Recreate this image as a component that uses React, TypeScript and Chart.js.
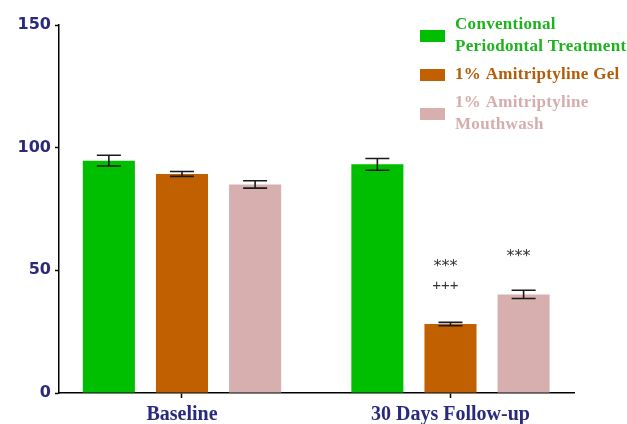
import React, { useEffect, useRef } from "react";
import { Chart, registerables } from "chart.js";

Chart.register(...registerables);

// ---- data ----
const categories = ["Baseline", "30 Days Follow-up"];
const conventional = [94.7, 93.2];
const gel = [89.3, 28.1];
const mouthwash = [85.0, 40.2];
const conventionalErr = [2.2, 2.4];
const gelErr = [1.0, 0.7];
const mouthwashErr = [1.5, 1.7];
// significance marks, listed bottom to top
const conventionalMarks: string[][] = [[], []];
const gelMarks: string[][] = [[], ["+++", "***"]];
const mouthwashMarks: string[][] = [[], ["***"]];
const seriesLabels = [
  ["Conventional", "Periodontal Treatment"],
  ["1% Amitriptyline Gel"],
  ["1% Amitriptyline", "Mouthwash"],
];
const yTicks = [0, 50, 100, 150];

// ---- styles ----
const barColors = ["rgb(0,190,0)", "rgb(192,96,0)", "rgb(216,175,175)"];
const legendTextColors = ["rgb(30,178,30)", "rgb(180,92,10)", "rgb(214,172,172)"];
const navy = "#2a2a7c";

const errorBarPlugin = {
  id: "errorBars",
  afterDatasetsDraw(chart: any) {
    const ctx = chart.ctx;
    const yScale = chart.scales.y;
    chart.data.datasets.forEach((ds: any, di: number) => {
      const meta = chart.getDatasetMeta(di);
      meta.data.forEach((el: any, i: number) => {
        const v = ds.data[i].y;
        const e = ds.errors[i];
        const yt = yScale.getPixelForValue(v + e);
        const yb = yScale.getPixelForValue(v - e);
        const x = el.x;
        const half = 12;
        ctx.save();
        ctx.strokeStyle = "#1a1a1a";
        ctx.lineWidth = 1.6;
        ctx.beginPath();
        ctx.moveTo(x, yt);
        ctx.lineTo(x, yb);
        ctx.moveTo(x - half, yt);
        ctx.lineTo(x + half, yt);
        ctx.moveTo(x - half, yb);
        ctx.lineTo(x + half, yb);
        ctx.stroke();
        // significance marks
        const marks: string[] = ds.marks[i] || [];
        ctx.fillStyle = "#333";
        ctx.textAlign = "center";
        ctx.textBaseline = "middle";
        marks.forEach((m, k) => {
          const star = m.indexOf("*") >= 0;
          ctx.font = star ? '16px "DejaVu Sans"' : '15px "Liberation Sans"';
          ctx.fillText(m, x - 5, yt - 36 - k * 23 + (star ? 3 : 0));
        });
        ctx.restore();
      });
    });
  },
};

const legendPlugin = {
  id: "customLegend",
  afterDraw(chart: any) {
    const ctx = chart.ctx;
    const x0 = 420;
    const textX = 455;
    const lh = 22;
    let top = 14;
    ctx.save();
    ctx.font = 'bold 17px "Liberation Serif"';
    try {
      (ctx as any).letterSpacing = "0.3px";
    } catch (e) {}
    ctx.textBaseline = "middle";
    ctx.textAlign = "left";
    chart.data.datasets.forEach((ds: any) => {
      const lines: string[] = ds.legendLines;
      const h = lines.length * lh;
      const cy = top + h / 2;
      ctx.fillStyle = ds.backgroundColor;
      ctx.fillRect(x0, cy - 6, 25, 12);
      ctx.fillStyle = ds.legendColor;
      lines.forEach((t, k) => {
        ctx.fillText(t, textX, top + lh / 2 + k * lh);
      });
      top += h + 6;
    });
    ctx.restore();
  },
};

function toPoints(vals: number[]) {
  return vals.map((y, x) => ({ x, y }));
}

export default function App() {
  const ref = useRef<HTMLCanvasElement | null>(null);

  useEffect(() => {
    if (!ref.current) return;
    const values = [conventional, gel, mouthwash];
    const errs = [conventionalErr, gelErr, mouthwashErr];
    const marks = [conventionalMarks, gelMarks, mouthwashMarks];
    const chart = new Chart(ref.current, {
      type: "bar",
      data: {
        datasets: values.map((v, i) => ({
          label: seriesLabels[i].join(" "),
          legendLines: seriesLabels[i],
          legendColor: legendTextColors[i],
          data: toPoints(v),
          errors: errs[i],
          marks: marks[i],
          backgroundColor: barColors[i],
          borderWidth: 0,
          categoryPercentage: 0.817,
          barPercentage: 0.712,
        })) as any,
      },
      options: {
        animation: false,
        responsive: false,
        maintainAspectRatio: false,
        layout: { padding: { top: 25, right: 53, left: 0, bottom: 0 } },
        plugins: {
          legend: { display: false },
          tooltip: { enabled: false },
        },
        scales: {
          x: {
            type: "linear",
            min: -0.458,
            max: 1.46,
            offset: false,
            afterBuildTicks: (scale: any) => {
              scale.ticks = categories.map((_, i) => ({ value: i }));
            },
            afterFit: (scale: any) => {
              scale.height = 31;
            },
            grid: {
              display: true,
              offset: false,
              drawOnChartArea: false,
              drawTicks: true,
              tickLength: 5,
              tickColor: "#000",
              tickWidth: 1.5,
              color: "#000",
            },
            border: { display: true, color: "#000", width: 1.5 },
            ticks: {
              autoSkip: false,
              maxRotation: 0,
              padding: 5,
              color: navy,
              font: { family: '"Liberation Serif"', size: 20, weight: "bold" },
              callback: (v: any) => categories[Number(v)] ?? "",
            },
          } as any,
          y: {
            min: 0,
            max: 150,
            afterBuildTicks: (scale: any) => {
              scale.ticks = yTicks.map((value) => ({ value }));
            },
            afterFit: (scale: any) => {
              scale.width = 59;
            },
            grid: {
              display: true,
              offset: false,
              drawOnChartArea: false,
              drawTicks: true,
              tickLength: 4,
              tickColor: "#000",
              tickWidth: 1.5,
              color: "#000",
            },
            border: { display: true, color: "#000", width: 1.5 },
            ticks: {
              padding: 4,
              color: navy,
              font: { family: '"DejaVu Sans"', size: 16, weight: "bold" },
            },
          } as any,
        },
      },
      plugins: [errorBarPlugin, legendPlugin],
    });
    return () => chart.destroy();
  }, []);

  return (
    <div style={{ position: "fixed", left: 0, top: 0, width: 627, height: 424, background: "#fff" }}>
      <canvas ref={ref} width={627} height={424} style={{ display: "block" }} />
    </div>
  );
}
